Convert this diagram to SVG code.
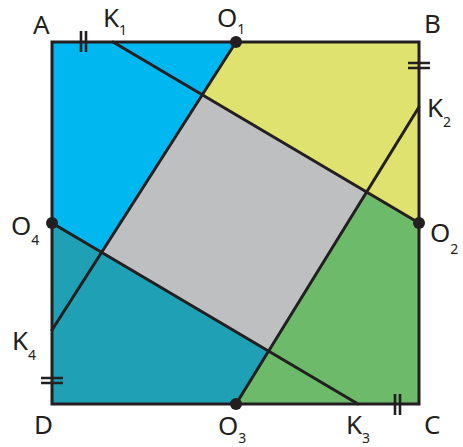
<svg xmlns="http://www.w3.org/2000/svg" width="463" height="447" viewBox="0 0 463 447">
<style>
.ln{stroke:#231f20;stroke-width:3;fill:none;stroke-linecap:round;stroke-linejoin:miter}
.tk{stroke:#231f20;stroke-width:2.6;fill:none}
.lb{font-family:"Noto Sans","DejaVu Sans",sans-serif;font-size:26px;fill:#231f20}
.sb{font-size:14px}
.dot{fill:#231f20}
</style>
<rect width="463" height="447" fill="#ffffff"/>
<g id="regions">
<polygon id="blue" points="52,42 236,42 101.6,252.3 52,223" fill="#00b7f0"/>
<polygon id="yellow" points="236,42 419,42 419,223 202.3,94.8" fill="#dfe26f"/>
<polygon id="green" points="419,223 419,404 236,404 366.6,192" fill="#6cba6a"/>
<polygon id="teal" points="52,223 268.6,351.1 236,404 52,404" fill="#1fa0b4"/>
<polygon id="gray" points="202.3,94.8 366.6,192 268.6,351.1 101.6,252.3" fill="#bebfc1"/>
</g>
<g id="connectors">
<rect class="ln" x="52" y="42" width="367" height="362"/>
<line class="ln" x1="113" y1="42" x2="419" y2="223"/>
<line class="ln" x1="236" y1="42" x2="52" y2="330"/>
<line class="ln" x1="419" y1="107" x2="236" y2="404"/>
<line class="ln" x1="52" y1="223" x2="358" y2="404"/>
</g>
<g id="ticks">
<path class="tk" d="M81,31V52M86,31V52"/>
<path class="tk" d="M408,63H430M408,68H430"/>
<path class="tk" d="M41,378H63M41,383H63"/>
<path class="tk" d="M395,394V415M400,394V415"/>
</g>
<g id="points">
<circle class="dot" cx="236" cy="42" r="6"/>
<circle class="dot" cx="419" cy="223" r="6"/>
<circle class="dot" cx="236" cy="404" r="6"/>
<circle class="dot" cx="52" cy="223" r="6"/>
</g>
<g id="labels">
<text class="lb" x="33" y="34">A</text>
<text class="lb" x="103" y="27">K<tspan class="sb" dy="8">1</tspan></text>
<text class="lb" x="217" y="27">O<tspan class="sb" dy="7">1</tspan></text>
<text class="lb" x="424" y="33">B</text>
<text class="lb" x="427" y="117">K<tspan class="sb" dy="10">2</tspan></text>
<text class="lb" x="430" y="242">O<tspan class="sb" dy="12">2</tspan></text>
<text class="lb" x="11" y="235">O<tspan class="sb" dy="10">4</tspan></text>
<text class="lb" x="12" y="350">K<tspan class="sb" dy="10">4</tspan></text>
<text class="lb" x="34" y="434">D</text>
<text class="lb" x="218" y="435">O<tspan class="sb" dy="8">3</tspan></text>
<text class="lb" x="346" y="434">K<tspan class="sb" dy="9">3</tspan></text>
<text class="lb" x="424" y="434">C</text>
</g>
</svg>
